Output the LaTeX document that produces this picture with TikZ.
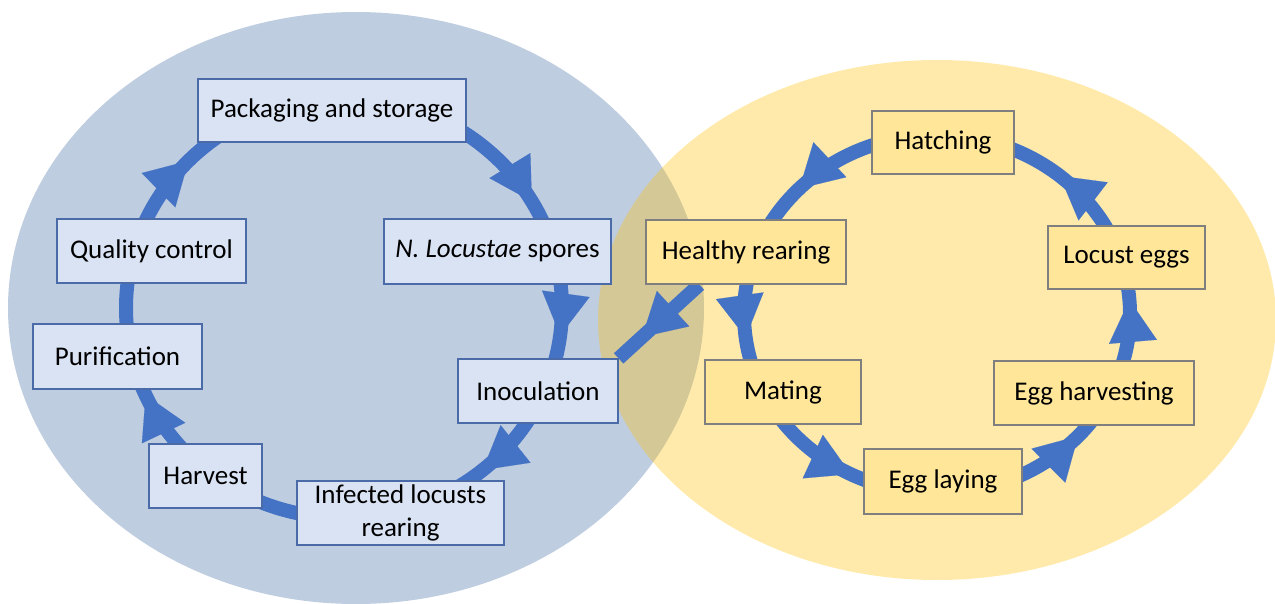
\documentclass[tikz,border=0pt]{standalone}
\usepackage{fontspec}
\setmainfont{Carlito}
\usetikzlibrary{arrows.meta,calc,backgrounds}
\definecolor{bluebg}{HTML}{BFCDE0}
\definecolor{yellowbg}{HTML}{FFC000}
\definecolor{ringblue}{HTML}{4472C4}
\definecolor{bboxfill}{HTML}{DAE3F3}
\definecolor{bboxline}{HTML}{4A6AA8}
\definecolor{yboxfill}{HTML}{FFE699}
\definecolor{yboxline}{HTML}{7F7F7F}
\newcommand\lefthead[2]{\draw[headtip] ($(lc)+(#1:218 and 210)$) arc[start angle=#1, end angle=#2, x radius=218pt, y radius=210pt];}
\newcommand\righthead[2]{\draw[headtip] ($(rc)+(#1:193 and 179)$) arc[start angle=#1, end angle=#2, x radius=193pt, y radius=179pt];}
\begin{document}
\begin{tikzpicture}[x=1pt,y=1pt,
  txt/.style={inner sep=0pt, align=center, text=black, font=\fontsize{27}{33}\selectfont},
  bbox/.style={txt, draw=bboxline, line width=1.2pt, fill=bboxfill},
  ybox/.style={txt, draw=yboxline, line width=1.2pt, fill=yboxfill},
  ring/.style={draw=ringblue, line width=14pt},
  headtip/.style={draw=ringblue, line width=0.1pt, -{Triangle[length=42pt,width=48pt,line width=0.1pt]}},
]
\useasboundingbox (0,0) rectangle (1275,-603);

% boxes (left cycle)
\node[bbox, minimum width=268pt, minimum height=63pt] (pk) at (332,-110.5) {Packaging and storage};
\node[bbox, minimum width=189pt, minimum height=64pt] (qc) at (151.5,-251) {Quality control};
\node[bbox, minimum width=227pt, minimum height=65pt] (nl) at (497.5,-251.5) {\textit{N. Locustae} spores};
\node[bbox, minimum width=169pt, minimum height=65pt] (pu) at (117.5,-356.5) {Purification};
\node[bbox, minimum width=160pt, minimum height=64pt] (in) at (538,-391) {Inoculation};
\node[bbox, minimum width=113pt, minimum height=64pt] (hv) at (205.5,-476) {Harvest};
\node[bbox, minimum width=207pt, minimum height=64pt] (il) at (400.5,-513) {Infected locusts\\rearing};

% boxes (right cycle)
\node[ybox, minimum width=142pt, minimum height=63pt] (ht) at (943,-142.5) {Hatching};
\node[ybox, minimum width=200pt, minimum height=64pt] (hr) at (746,-252) {Healthy rearing};
\node[ybox, minimum width=157pt, minimum height=63pt] (le) at (1126.5,-257.5) {Locust eggs};
\node[ybox, minimum width=156pt, minimum height=64pt] (ma) at (783,-392) {Mating};
\node[ybox, minimum width=200pt, minimum height=64pt] (eh) at (1094,-393) {Egg harvesting};
\node[ybox, minimum width=158pt, minimum height=65pt] (el) at (943,-481.5) {Egg laying};

\begin{pgfonlayer}{background}
\fill[bluebg] (356,-308) ellipse [x radius=348pt, y radius=296pt];
\fill[yellowbg, fill opacity=0.33] (937,-320) ellipse [x radius=339pt, y radius=260pt];

\coordinate (lc) at (344,-308);
\coordinate (rc) at (937,-314);
\draw[ring] (lc) ellipse [x radius=218pt, y radius=210pt];
\draw[ring] (rc) ellipse [x radius=193pt, y radius=179pt];

% connector healthy rearing -> inoculation
\coordinate (hs) at ($(hr.south west)+(54,0)$);
\draw[ring] (hs) -- (in.north east);
\draw[headtip] ($(hs)!0.58!(in.north east)$) -- ($(hs)!0.71!(in.north east)$);

% arrow heads, left cycle (clockwise)
\lefthead{35}{30.5}
\lefthead{-3}{-7.5}
\lefthead{-46}{-50.5}
\lefthead{209}{204.5}
\lefthead{140}{135.5}
% arrow heads, right cycle (counter-clockwise)
\righthead{131}{135.5}
\righthead{183}{187.5}
\righthead{239}{243.5}
\righthead{312.5}{317}
\righthead{0}{4.5}
\righthead{46}{50.5}
\end{pgfonlayer}
\end{tikzpicture}
\end{document}
